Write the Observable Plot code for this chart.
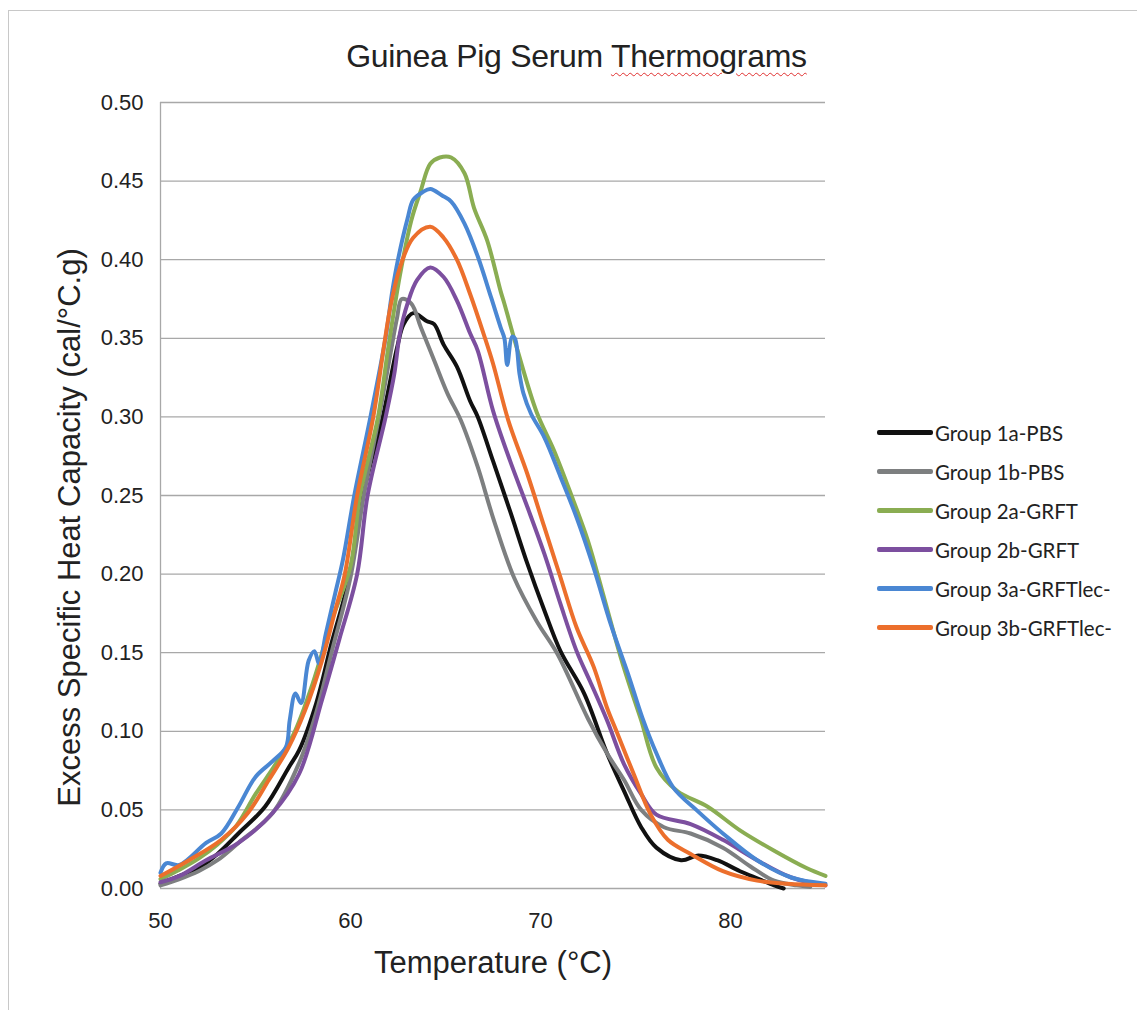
<!DOCTYPE html>
<html><head><meta charset="utf-8">
<script src="https://cdn.jsdelivr.net/npm/d3@7"></script>
<script src="https://cdn.jsdelivr.net/npm/@observablehq/plot@0.6"></script>
<style>
body{margin:0;background:#fff;font-family:"Liberation Sans",Arial,sans-serif}
#page{position:relative;width:1137px;height:1010px;overflow:hidden;background:#fff}
#frame{position:absolute;left:8px;top:10px;width:1140px;height:1010px;border-top:1px solid #c8c8c8;border-left:1px solid #c8c8c8}
#title{position:absolute;top:38px;left:0;width:1153px;text-align:center;font-size:32px;color:#222;letter-spacing:-0.3px}
#title u{text-decoration:underline wavy #e03030;text-decoration-thickness:1px;text-underline-offset:5px}
#chart{position:absolute;left:0;top:80px}
#legend{position:absolute;left:877px;top:413px;font-family:Lato,"Open Sans",sans-serif;font-size:20.5px;color:#222}
.row{height:39px;display:flex;align-items:center}
.sw{display:inline-block;width:56px;height:5px;border-radius:2px;margin-right:2px}
</style>
</head><body>
<div id="page">
<div id="frame"></div>
<div id="title">Guinea Pig Serum <u>Thermograms</u></div>
<div id="chart"></div>
<div id="legend"></div>
</div>
<script>
const groups = ["Group 1a-PBS","Group 1b-PBS","Group 2a-GRFT","Group 2b-GRFT","Group 3a-GRFTlec-","Group 3b-GRFTlec-"];
const colors = ["#111111","#7d7f80","#8aad52","#7c4f9f","#4a87d3","#ec6f2c"];
const xTicks = [50,60,70,80];
const yTicks = [0,0.05,0.10,0.15,0.20,0.25,0.30,0.35,0.40,0.45,0.50];

// Temperature (°C) / excess specific heat capacity (cal/°C.g), per group
const t1a = [50,51,52,53,54.1,55.5,56.75,57.3,58.2,59,59.9,60.65,61.7,62.45,62.8,63.3,64,64.4,64.9,65.6,66.3,66.7,67.5,68.4,69.3,70.2,71.05,72.3,73.5,74.4,75.3,76.1,77.4,78.3,79.3,80.5,81.5,82.3,82.8];
const v1a = [0.003,0.008,0.013,0.022,0.035,0.052,0.077,0.088,0.118,0.156,0.196,0.25,0.30,0.344,0.359,0.366,0.361,0.359,0.346,0.332,0.31,0.30,0.272,0.24,0.207,0.177,0.151,0.124,0.086,0.062,0.039,0.026,0.018,0.021,0.018,0.011,0.006,0.002,0.0];

const t1b = [50,51,52,53,54.1,55.9,57.3,58.2,59,60,60.7,61.5,62.1,62.45,62.7,63.2,63.7,64.4,65.1,65.8,66.7,67.5,68.6,69.8,70.9,72.5,73.5,74.4,75.3,76.5,77.9,79.6,81.05,82.3,83.5,84.2];
const v1b = [0.002,0.006,0.011,0.018,0.029,0.048,0.08,0.112,0.15,0.198,0.25,0.30,0.34,0.363,0.375,0.372,0.357,0.336,0.315,0.298,0.268,0.236,0.198,0.17,0.149,0.108,0.086,0.069,0.05,0.039,0.035,0.026,0.014,0.005,0.002,0.001];

const t2a = [50,51,52,53,54,55,56,57,58,59,60,60.5,61.45,62,62.6,63.2,63.7,64.2,64.7,65.3,66,66.5,67.2,67.9,68.1,68.8,69.8,70.7,71.6,72.5,73.3,74.2,74.8,75.3,76.1,77.2,78.8,80.5,82.3,84,85];
const v2a = [0.006,0.012,0.019,0.028,0.04,0.06,0.078,0.098,0.13,0.17,0.205,0.25,0.30,0.345,0.39,0.425,0.444,0.461,0.465,0.465,0.455,0.433,0.412,0.38,0.372,0.342,0.303,0.279,0.251,0.221,0.187,0.148,0.125,0.107,0.077,0.062,0.052,0.037,0.024,0.013,0.008];

const t2b = [50,51,52.4,54.1,55.9,57.3,58.5,59.4,60.35,60.9,61.85,62.3,62.6,63,63.5,64.2,64.9,65.6,66.3,66.7,67.5,68.4,69.3,70.2,71.05,71.9,72.6,73.5,74.4,75.3,76.1,77.9,79.6,81.4,83.2,85];
const v2b = [0.004,0.008,0.018,0.029,0.048,0.073,0.12,0.158,0.20,0.25,0.30,0.327,0.353,0.372,0.387,0.395,0.389,0.374,0.353,0.342,0.304,0.272,0.243,0.213,0.181,0.151,0.132,0.107,0.079,0.06,0.047,0.041,0.031,0.018,0.007,0.002];

const t3a = [50,50.3,51,52.4,53.2,54.1,55,55.9,56.6,56.8,57.1,57.4,57.8,58.1,58.35,58.7,59.2,59.6,60.2,61.05,61.84,62.2,62.5,63,63.3,63.8,64.2,64.8,65.3,66,66.7,67.4,67.9,68.1,68.25,68.5,68.65,68.9,69.1,69.5,70.2,71.05,71.9,72.8,73.7,74.65,75.35,76.1,77,78.2,79.6,81.4,83.2,85];
const v3a = [0.01,0.016,0.015,0.029,0.035,0.052,0.071,0.081,0.09,0.107,0.124,0.118,0.145,0.151,0.143,0.162,0.188,0.209,0.25,0.30,0.35,0.38,0.40,0.426,0.438,0.443,0.445,0.441,0.437,0.423,0.402,0.376,0.357,0.35,0.333,0.351,0.35,0.327,0.315,0.302,0.287,0.262,0.236,0.204,0.168,0.135,0.109,0.086,0.064,0.05,0.035,0.018,0.007,0.003];

const t3b = [50,51.5,53.2,54.6,55.7,56.75,57.6,58.5,59.2,59.7,60.35,61.2,61.75,62.1,62.6,63.3,64.2,64.9,65.6,66.3,67,67.5,68.3,69.3,70.2,71.05,71.9,72.8,73.5,74,74.9,75.8,76.7,77.9,79.6,81.4,83,85];
const v3b = [0.008,0.018,0.031,0.048,0.069,0.09,0.113,0.145,0.177,0.20,0.25,0.30,0.344,0.37,0.395,0.414,0.421,0.414,0.40,0.378,0.353,0.334,0.298,0.264,0.23,0.198,0.166,0.141,0.115,0.10,0.073,0.047,0.031,0.022,0.011,0.005,0.003,0.002];

const seriesT = [t1a,t1b,t2a,t2b,t3a,t3b];
const seriesV = [v1a,v1b,v2a,v2b,v3a,v3b];
const rows = [];
groups.forEach((g,i) => seriesT[i].forEach((t,j) => rows.push({g, t, v: seriesV[i][j]})));

const chart = Plot.plot({
  width: 860, height: 908,
  marginLeft: 160, marginRight: 35, marginTop: 22, marginBottom: 100,
  style: {fontFamily: "'Liberation Sans', Arial, sans-serif", fontSize: "22px", color: "#222", background: "transparent"},
  x: {domain: [50, 85], label: null},
  y: {domain: [0, 0.5], label: null},
  color: {domain: groups, range: colors},
  marks: [
    Plot.ruleY(yTicks, {stroke: "#a8a8a8", strokeWidth: 1.3}),
    Plot.ruleX([50], {stroke: "#a8a8a8", strokeWidth: 1.3}),
    Plot.line(rows, {x: "t", y: "v", z: "g", stroke: "g", strokeWidth: 4, curve: "catmull-rom", strokeLinejoin: "round"}),
    Plot.axisX(xTicks, {tickSize: 0, tickPadding: 24, tickFormat: d => d, label: null, fontSize: 22}),
    Plot.axisY(yTicks, {tickSize: 0, tickPadding: 17, tickFormat: d3.format(".2f"), label: null, fontSize: 22}),
    Plot.text(["Temperature (°C)"], {frameAnchor: "bottom", dy: 84, fontSize: 31, fill: "#222"}),
    Plot.text(["Excess Specific Heat Capacity (cal/°C.g)"], {frameAnchor: "left", textAnchor: "middle", dx: -90, dy: 32, rotate: -90, fontSize: 31, fill: "#222"})
  ]
});
document.getElementById("chart").appendChild(chart);

const legend = document.getElementById("legend");
groups.forEach((g,i) => {
  const r = document.createElement("div"); r.className = "row";
  const s = document.createElement("span"); s.className = "sw"; s.style.background = colors[i];
  const l = document.createElement("span"); l.textContent = g;
  r.appendChild(s); r.appendChild(l); legend.appendChild(r);
});
</script>
</body></html>
